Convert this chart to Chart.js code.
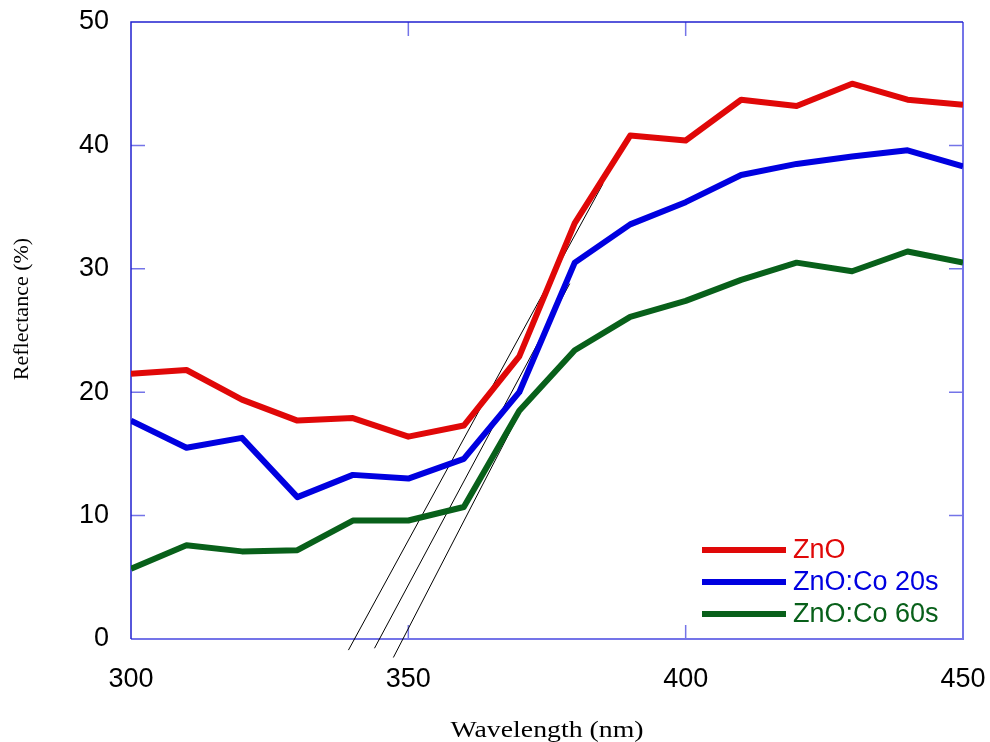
<!DOCTYPE html>
<html>
<head>
<meta charset="utf-8">
<title>Reflectance</title>
<script src="https://cdn.jsdelivr.net/npm/chart.js@4.4.1/dist/chart.umd.min.js"></script>
<style>
  body { margin: 0; background: #fff; }
  canvas { display: block; }
</style>
</head>
<body>
<canvas id="grafico" width="990" height="742"></canvas>
<script>
// Dados --------------------------------------------------------------------

// Eixo X (nm)
const wavelength = [300, 310, 320, 330, 340, 350, 360, 370, 380, 390, 400, 410, 420, 430, 440, 450]

// Eixo Y (%)
const zno      = [21.5, 21.8, 19.4, 17.7, 17.9, 16.4, 17.3, 22.9, 33.7, 40.8, 40.4, 43.7, 43.2, 45.0, 43.7, 43.3]
const znoCo20  = [17.7, 15.5, 16.3, 11.5, 13.3, 13.0, 14.6, 20.0, 30.5, 33.6, 35.4, 37.6, 38.5, 39.1, 39.6, 38.3]
const znoCo60  = [5.7, 7.6, 7.1, 7.2, 9.6, 9.6, 10.7, 18.5, 23.4, 26.1, 27.4, 29.1, 30.5, 29.8, 31.4, 30.5]

const labels = ['ZnO', 'ZnO:Co 20s', 'ZnO:Co 60s']
const cores = ['#e00808', '#0000e0', '#08601a']

// retas tangentes (extrapolação do gap)
const tangenteX = [[339.2, 385.1], [343.9, 379.1], [347.3, 370.4]]
const tangenteY = [[-0.9, 36.9], [-0.75, 28.8], [-1.5, 18.6]]

// ticks dos eixos
const ticksX = [300, 350, 400, 450]
const ticksY = [0, 10, 20, 30, 40, 50]

// --------------------------------------------------------------------------

function serie(ys) {
  return wavelength.map((w, i) => ({x: w, y: ys[i]}))
}

const datasets = [zno, znoCo20, znoCo60].map((ys, i) => ({
  label: labels[i],
  data: serie(ys),
  borderColor: cores[i],
  borderWidth: 6,
  pointRadius: 0,
  tension: 0,
  borderJoinStyle: 'round'
}))

tangenteX.forEach((xs, i) => {
  datasets.push({
    label: 'tangente ' + (i + 1),
    data: xs.map((x, j) => ({x: x, y: tangenteY[i][j]})),
    borderColor: '#000',
    borderWidth: 1,
    pointRadius: 0,
    clip: false
  })
})

// texto esticado na horizontal até a largura pedida
function textoLargura(ctx, txt, x, y, largura) {
  const w = ctx.measureText(txt).width
  ctx.save()
  ctx.translate(x, y)
  ctx.scale(largura / w, 1)
  ctx.fillText(txt, 0, 0)
  ctx.restore()
}

// moldura + ticks para dentro
const moldura = {
  id: 'moldura',
  beforeDatasetsDraw(chart) {
    const {ctx, chartArea: a, scales: {x, y}} = chart
    ctx.save()
    ctx.strokeStyle = '#7474e8'
    ctx.lineWidth = 1.5
    ctx.beginPath()
    ticksY.slice(1, -1).forEach(v => {
      const py = y.getPixelForValue(v)
      ctx.moveTo(a.left, py); ctx.lineTo(a.left + 14, py)
      ctx.moveTo(a.right, py); ctx.lineTo(a.right - 14, py)
    })
    ticksX.slice(1, -1).forEach(v => {
      const px = x.getPixelForValue(v)
      ctx.moveTo(px, a.bottom); ctx.lineTo(px, a.bottom - 14)
      ctx.moveTo(px, a.top); ctx.lineTo(px, a.top + 14)
    })
    ctx.stroke()

    // direita e baixo mais claros
    ctx.lineWidth = 2
    ctx.beginPath()
    ctx.moveTo(a.left, a.bottom); ctx.lineTo(a.right, a.bottom); ctx.lineTo(a.right, a.top)
    ctx.stroke()

    // esquerda e topo
    ctx.strokeStyle = '#2020d0'
    ctx.lineWidth = 1.5
    ctx.beginPath()
    ctx.moveTo(a.left, a.bottom); ctx.lineTo(a.left, a.top); ctx.lineTo(a.right, a.top)
    ctx.stroke()
    ctx.restore()
  },
  afterDraw(chart) {
    const {ctx, chartArea: a} = chart
    ctx.save()
    // títulos dos eixos
    ctx.fillStyle = '#000'
    ctx.font = '22px "Liberation Serif", "Times New Roman", serif'
    ctx.textAlign = 'center'
    ctx.textBaseline = 'middle'
    ctx.translate(22, 309)
    ctx.rotate(-Math.PI / 2)
    ctx.fillText('Reflectance (%)', 0, 0)
    ctx.restore()

    ctx.save()
    ctx.fillStyle = '#000'
    ctx.font = '23px "Liberation Serif", "Times New Roman", serif'
    ctx.textAlign = 'center'
    ctx.textBaseline = 'middle'
    textoLargura(ctx, 'Wavelength (nm)', (a.left + a.right) / 2, 731, 193)

    // legenda
    ctx.font = '27px "Liberation Sans", Arial, sans-serif'
    ctx.textAlign = 'left'
    labels.forEach((txt, i) => {
      const yy = 550 + i * 32
      ctx.strokeStyle = cores[i]
      ctx.lineWidth = 6
      ctx.beginPath()
      ctx.moveTo(702, yy); ctx.lineTo(786, yy)
      ctx.stroke()
      ctx.fillStyle = cores[i]
      ctx.fillText(txt, 793, yy + 1)
    })
    ctx.restore()
  }
}

const fonteTicks = {family: '"Liberation Sans", Arial, sans-serif', size: 27}

const config = {
  type: 'line',
  data: {datasets},
  options: {
    responsive: false,
    animation: false,
    layout: {padding: {top: 22, right: 27, left: 0, bottom: 0}},
    scales: {
      x: {
        type: 'linear',
        min: 300,
        max: 450,
        afterFit: s => { s.height = 103; s.paddingLeft = 0; s.paddingRight = 0 },
        afterBuildTicks: s => { s.ticks = ticksX.map(v => ({value: v})) },
        ticks: {color: '#000', font: fonteTicks, padding: 24, maxRotation: 0},
        grid: {display: false, drawTicks: false},
        border: {display: false}
      },
      y: {
        min: 0,
        max: 50,
        afterFit: s => { s.width = 131; s.paddingTop = 0; s.paddingBottom = 0 },
        afterBuildTicks: s => { s.ticks = ticksY.map(v => ({value: v})) },
        ticks: {color: '#000', font: fonteTicks, padding: 22},
        grid: {display: false, drawTicks: false},
        border: {display: false}
      }
    },
    plugins: {
      legend: false,
      tooltip: {enabled: false}
    }
  },
  plugins: [moldura]
}

const grafico = new Chart(document.getElementById('grafico').getContext('2d'), config)
</script>
</body>
</html>
